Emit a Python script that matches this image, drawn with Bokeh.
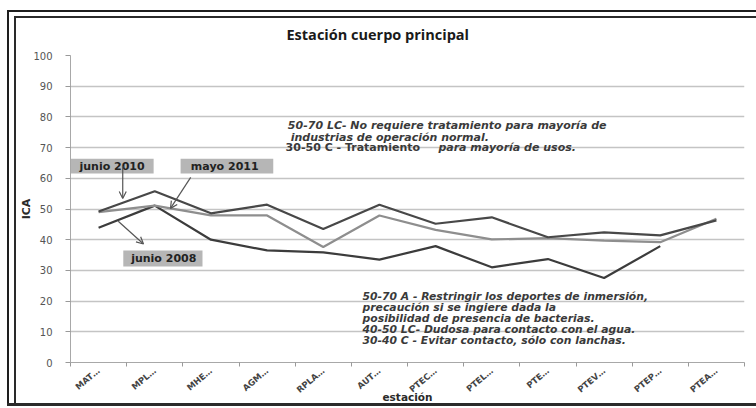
import numpy as np
from bokeh.plotting import figure
from bokeh.models import Range1d, FixedTicker, Arrow, OpenHead
from bokeh.core.properties import value
from bokeh.embed import file_html
from bokeh.resources import INLINE

# ---------------- data ----------------
categories = ["MAT…", "MPL…", "MHE…", "AGM…", "RPLA…", "AUT…",
              "PTEC…", "PTEL…", "PTE…", "PTEV…", "PTEP…", "PTEA…"]
junio_2010 = [49.2, 55.8, 48.6, 51.4, 43.5, 51.4, 45.2, 47.3, 40.8, 42.4, 41.4, 46.3]
mayo_2011 = [49.0, 51.1, 47.9, 47.9, 37.6, 47.9, 43.2, 40.1, 40.5, 39.7, 39.2, 46.8]
junio_2008 = [43.9, 51.1, 40.0, 36.5, 35.9, 33.5, 37.9, 31.0, 33.7, 27.5, 37.9, float("nan")]
y_ticks = list(range(0, 101, 10))

title = "Estación cuerpo principal"
x_label = "estación"
y_label = "ICA"

upper_notes = ["50-70 LC- No requiere tratamiento para mayoría de",
               " industrias de operación normal."]
upper_note3a = "30-50 C - Tratamiento"
upper_note3b = "para mayoría de usos."
lower_notes = ["50-70 A - Restringir los deportes de inmersión,",
               "precaución si se ingiere dada la",
               "posibilidad de presencia de bacterias.",
               "40-50 LC- Dudosa para contacto con el agua.",
               "30-40 C - Evitar contacto, sólo con lanchas."]

n = len(categories)
centers = [i + 0.5 for i in range(n)]
bounds = list(range(n + 1))

p = figure(width=756, height=408, output_backend="svg", toolbar_location=None,
           x_range=Range1d(0, n), y_range=Range1d(0, 100),
           min_border_left=70, min_border_right=12, min_border_top=55, min_border_bottom=46,
           border_fill_color=None, background_fill_color="white",
           outline_line_color=None)

# frame around the whole chart (double line left/top, single bottom)
p.styles = {
    "box-shadow": ("inset 0 -2px 0 0 #ffffff, inset 7px 10px 0 0 #ffffff, "
                   "inset 0 -5px 0 0 #2a2a2a, inset 9px 12px 0 0 #1e1e1e, "
                   "inset 14px 16px 0 0 #ffffff, inset 16px 18px 0 0 #2a2a2a"),
    "background-color": "white",
}

# title
p.title.text = title
p.title.align = "left"
p.title.offset = 216
p.title.standoff = 20
p.title.vertical_align = "top"
p.title.text_font = "Open Sans"
p.title.text_font_size = "14.5px"
p.title.text_font_style = "bold"
p.title.text_color = "#1a1a1a"

# axes
xa = p.xaxis[0]
xa.ticker = FixedTicker(ticks=centers, minor_ticks=bounds)
xa.major_label_overrides = {c: lab for c, lab in zip(centers, categories)}
xa.major_tick_line_color = None
xa.major_tick_out = 0
xa.minor_tick_in = 0
xa.minor_tick_out = 4
xa.minor_tick_line_color = "#999999"
xa.axis_line_color = "#a8a8a8"
xa.major_label_orientation = 0.7
xa.major_label_standoff = 3
xa.major_label_text_font = "DejaVu Sans"
xa.major_label_text_font_size = "8.5px"
xa.major_label_text_font_style = "bold"
xa.major_label_text_color = "#444444"
xa.axis_label = x_label
xa.axis_label_standoff = -11
xa.axis_label_text_font = "DejaVu Sans"
xa.axis_label_text_font_size = "10.5px"
xa.axis_label_text_font_style = "bold"
xa.axis_label_text_color = "#2a2a2a"

ya = p.yaxis[0]
ya.ticker = FixedTicker(ticks=y_ticks)
ya.minor_tick_line_color = None
ya.major_tick_in = 0
ya.major_tick_out = 5
ya.major_tick_line_color = "#999999"
ya.axis_line_color = "#a8a8a8"
ya.major_label_standoff = 13
ya.major_label_text_font = "DejaVu Sans"
ya.major_label_text_font_size = "10px"
ya.major_label_text_color = "#555555"
ya.axis_label = y_label
ya.axis_label_standoff = -3
ya.axis_label_text_font = "DejaVu Sans"
ya.axis_label_text_font_size = "11px"
ya.axis_label_text_font_style = "bold"
ya.axis_label_text_color = "#2a2a2a"

p.xgrid.grid_line_color = None
p.ygrid.grid_line_color = "#c4c4c4"
p.ygrid.grid_line_width = 1.5

# series
p.line(centers, junio_2008, line_color="#3c3c3c", line_width=2.2)
p.line(centers, mayo_2011, line_color="#8e8e8e", line_width=2.2)
p.line(centers, junio_2010, line_color="#484848", line_width=2.2)

# series label boxes
p.quad(left=[0.0, 1.96, 0.94], right=[1.48, 3.61, 2.35],
       top=[66.4, 66.4, 36.5], bottom=[61.6, 61.6, 31.3],
       fill_color="#b6b6b6", line_color=None)
p.text(x=[0.74, 2.78, 1.66], y=[64.0, 64.0, 33.9],
       text=["junio 2010", "mayo  2011", "junio 2008"],
       text_font=value("DejaVu Sans"), text_font_size="11px", text_font_style="bold",
       text_color="#222222", text_align="center", text_baseline="middle")

# arrows
head = dict(size=7, line_color="#555555", line_width=1.2)
p.add_layout(Arrow(end=OpenHead(**head), x_start=0.93, y_start=64.0, x_end=0.93, y_end=53.4,
                   line_color="#555555", line_width=1.2))
p.add_layout(Arrow(end=OpenHead(**head), x_start=2.14, y_start=60.3, x_end=1.78, y_end=50.2,
                   line_color="#555555", line_width=1.2))
p.add_layout(Arrow(end=OpenHead(**head), x_start=0.85, y_start=46.0, x_end=1.3, y_end=38.6,
                   line_color="#555555", line_width=1.2))

# annotations
up_style = dict(text_font=value("DejaVu Sans"), text_font_size="11px",
                text_color="#3a3a3a", text_baseline="middle")
lo_style = dict(text_font=value("DejaVu Sans"), text_font_size="10.8px",
                text_color="#3a3a3a", text_baseline="middle")
p.text(x=[3.87, 3.92], y=[77.2, 73.3], text=upper_notes, text_font_style="bold italic", **up_style)
p.text(x=[3.83], y=[70.0], text=[upper_note3a], text_font_style="bold", **up_style)
p.text(x=[6.55], y=[70.0], text=[upper_note3b], text_font_style="bold italic", **up_style)
p.text(x=[5.2] * 5, y=[21.5, 17.9, 14.3, 10.7, 7.2], text=lower_notes,
       text_font_style="bold italic", **lo_style)

open("out.html", "w").write(file_html(p, INLINE))
